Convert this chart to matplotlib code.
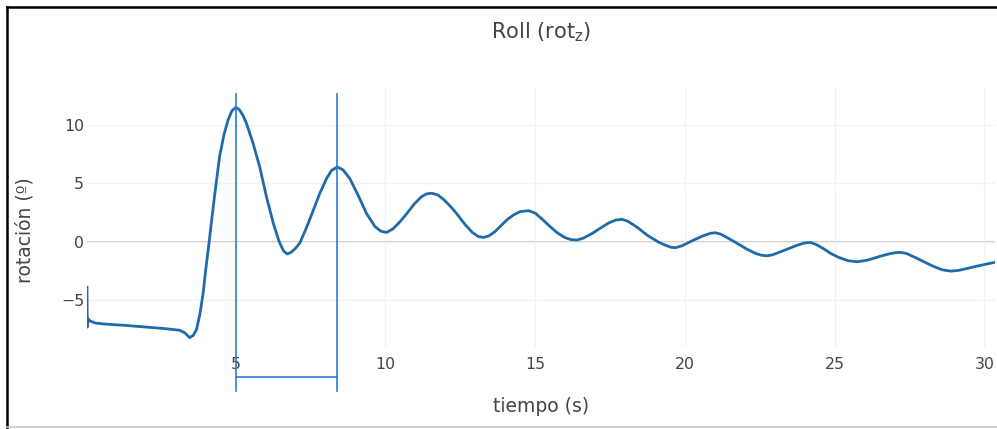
import matplotlib
matplotlib.use("Agg")
import matplotlib.pyplot as plt
from matplotlib.lines import Line2D

# ---- data ----
tiempo = [0.03, 0.04, 0.07, 0.12, 0.3, 0.68, 1.3, 2.0, 2.6, 3.13, 3.3, 3.46, 3.58, 3.69, 3.8,
          3.91, 4.0, 4.11, 4.28, 4.46, 4.6, 4.74, 4.87, 5.0, 5.12, 5.24, 5.36, 5.58, 5.80, 6.02,
          6.25, 6.45, 6.6, 6.72, 6.85, 7.0, 7.14, 7.36, 7.59, 7.8, 8.03, 8.2, 8.39, 8.58, 8.81,
          9.1, 9.37, 9.65, 9.85, 10.04, 10.25, 10.48, 10.71, 10.95, 11.2, 11.38, 11.55, 11.75,
          11.95, 12.18, 12.38, 12.65, 12.9, 13.1, 13.27, 13.45, 13.65, 13.85, 14.05, 14.28, 14.5,
          14.78, 15.0, 15.25, 15.5, 15.75, 16.0, 16.2, 16.39, 16.6, 16.9, 17.17, 17.45, 17.68,
          17.9, 18.1, 18.4, 18.74, 19.1, 19.35, 19.55, 19.7, 19.9, 20.29, 20.6, 20.85, 21.02,
          21.2, 21.45, 21.75, 22.05, 22.35, 22.55, 22.75, 22.95, 23.2, 23.47, 23.75, 24.0, 24.2,
          24.4, 24.65, 24.87, 25.15, 25.45, 25.76, 26.05, 26.3, 26.54, 26.85, 27.05, 27.21, 27.4,
          27.7, 27.99, 28.3, 28.6, 28.88, 29.15, 29.4, 29.66, 30.0, 30.33]
rotacion = [-3.9, -7.3, -6.6, -6.75, -6.95, -7.05, -7.15, -7.3, -7.42, -7.57, -7.8, -8.2, -8.0,
            -7.5, -6.2, -4.4, -2.3, 0.0, 3.7, 7.3, 9.1, 10.4, 11.2, 11.5, 11.3, 10.8, 10.1, 8.4,
            6.4, 3.9, 1.6, 0.0, -0.8, -1.05, -0.9, -0.55, -0.1, 1.2, 2.7, 4.1, 5.4, 6.1, 6.4, 6.15,
            5.4, 3.9, 2.4, 1.3, 0.9, 0.8, 1.1, 1.7, 2.4, 3.2, 3.85, 4.1, 4.15, 4.0, 3.6, 3.0, 2.4,
            1.5, 0.8, 0.45, 0.37, 0.5, 0.85, 1.35, 1.86, 2.3, 2.58, 2.66, 2.45, 1.9, 1.29, 0.75,
            0.35, 0.18, 0.15, 0.3, 0.7, 1.15, 1.6, 1.85, 1.92, 1.75, 1.25, 0.57, 0.0, -0.3, -0.48,
            -0.5, -0.35, 0.14, 0.5, 0.72, 0.77, 0.65, 0.3, -0.14, -0.6, -0.98, -1.15, -1.2, -1.1,
            -0.85, -0.57, -0.3, -0.1, -0.06, -0.25, -0.62, -1.0, -1.35, -1.62, -1.71, -1.6, -1.42,
            -1.23, -1.02, -0.93, -0.91, -1.0, -1.35, -1.71, -2.1, -2.4, -2.51, -2.45, -2.3, -2.14,
            -1.95, -1.77]

# period marker (vertical lines at two consecutive peaks + bracket)
marca_x = [5.0, 8.39]
marca_y_top = 12.65
marca_y_bottom = -12.8
marca_bracket_y = -11.6

x_ticks = [5, 10, 15, 20, 25, 30]
y_ticks = [-5, 0, 5, 10]

titulo = r"Roll (rot$_{\mathregular{z}}$)"
x_label = "tiempo (s)"
y_label = "rotación (º)"

# ---- figure ----
W, H = 997, 429
fig = plt.figure(figsize=(W / 100, H / 100), dpi=100)
fig.patch.set_facecolor("white")

L, R, T, B = 87, 995, 88, 347
ax = fig.add_axes([L / W, 1 - B / H, (R - L) / W, (B - T) / H])
ax.set_facecolor("white")

line_col = "#1f6aab"
mark_col = "#2a7ae2"
txt_col = "#444444"

ax.plot(tiempo, rotacion, color=line_col, lw=2.0, zorder=3, solid_joinstyle="round")

for xm in marca_x:
    ax.plot([xm, xm], [marca_y_top, marca_y_bottom], color=mark_col, lw=1.2,
            clip_on=False, zorder=4)
ax.plot(marca_x, [marca_bracket_y, marca_bracket_y], color=mark_col, lw=1.2,
        clip_on=False, zorder=4)

ax.set_xlim(0.03, 30.36)
ax.set_ylim(-9.0, 13.15)
ax.set_xticks(x_ticks)
ax.set_yticks(y_ticks)
ax.grid(True, color="#f2f2f2", lw=1.0, zorder=0)
ax.axhline(0, color="#c8c8c8", lw=1.5, zorder=1)
for s in ax.spines.values():
    s.set_visible(False)
ax.tick_params(axis="both", length=0, labelsize=11.3, colors=txt_col)
ax.tick_params(axis="x", pad=7)
ax.tick_params(axis="y", pad=2)

fig.text((L + R) / 2 / W, 1 - 32 / H, titulo, ha="center", va="center",
         fontsize=15, color=txt_col)
fig.text((L + R) / 2 / W, 1 - 407 / H, x_label, ha="center", va="center",
         fontsize=13.5, color=txt_col)
fig.text(25 / W, 1 - 230 / H, y_label, ha="center", va="center", rotation=90,
         fontsize=13.5, color=txt_col)

# outer frame
fig.add_artist(Line2D([7 / W, 7 / W], [0, 1 - 7 / H], color="black", lw=1.8,
                      transform=fig.transFigure))
fig.add_artist(Line2D([7 / W, 1], [1 - 7 / H, 1 - 7 / H], color="black", lw=1.8,
                      transform=fig.transFigure))
fig.add_artist(Line2D([7 / W, 1], [1 - 427 / H, 1 - 427 / H], color="#c8c8c8", lw=1.2,
                      transform=fig.transFigure))

fig.savefig("out.png", dpi=100, facecolor="white")
